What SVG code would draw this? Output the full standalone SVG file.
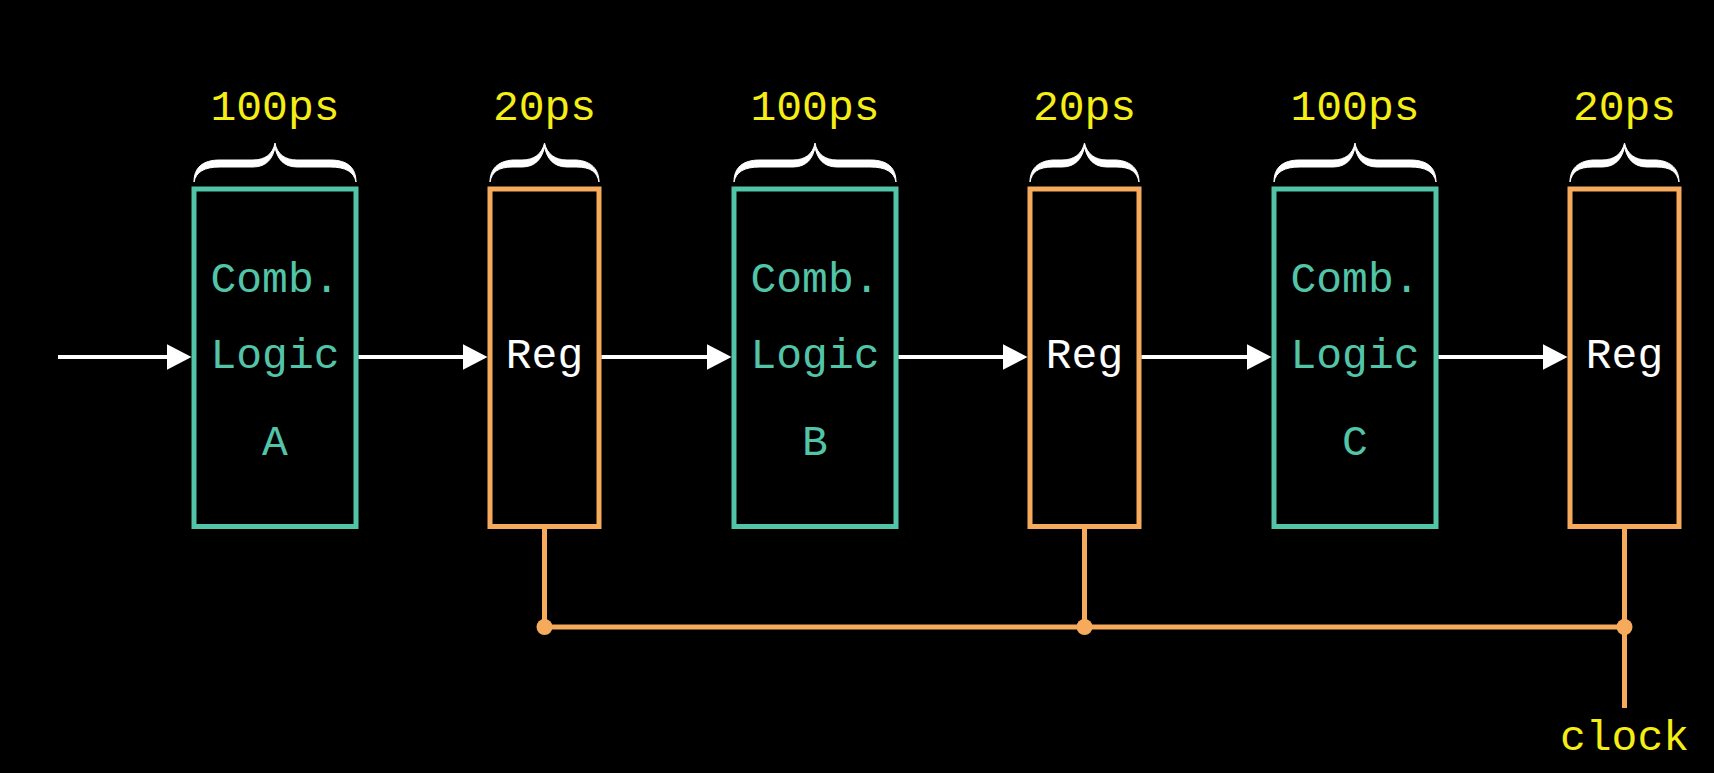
<svg xmlns="http://www.w3.org/2000/svg" width="1714" height="773" viewBox="0 0 1714 773">
  <style>
    .bg { fill: #000000; }
    .comb { fill: none; stroke: #52c4a7; stroke-width: 5; }
    .reg { fill: none; stroke: #f6aa5c; stroke-width: 5; }
    .brace { fill: #ffffff; stroke: #ffffff; stroke-width: 1; stroke-linejoin: round; }
    .t { font-family: "Liberation Mono", "DejaVu Sans Mono", monospace; font-size: 43px; text-anchor: middle; }
    .delay { fill: #f4ee14; }
    .logic { fill: #52c4a7; }
    .reglbl { fill: #ffffff; }
    .wire { fill: none; stroke: #ffffff; stroke-width: 4; }
    .clk { fill: none; stroke: #f6aa5c; stroke-width: 5; }
    .dot { fill: #f6aa5c; }
  </style>
  <defs>
    <marker id="arrow" viewBox="0 0 25 26" refX="5" refY="13" markerWidth="25" markerHeight="26" markerUnits="userSpaceOnUse" orient="auto">
      <path d="M0,0 L25,13 L0,26 Z" fill="#ffffff"/>
    </marker>
  </defs>

  <rect class="bg" x="0" y="0" width="1714" height="773"/>

  <!-- combinational logic stage A -->
  <g id="comb-a">
    <path class="brace" d="M194,182 C194,168 202,160 220,160 L253,160 C265,160 273,154 275,143 C277,154 285,160 297,160 L330,160 C348,160 356,168 356,182 C354,172 346,167 330,167 L297,167 C283,167 277,158 275,147 C273,158 267,167 253,167 L220,167 C204,167 196,172 194,182 Z"/>
    <text class="t delay" x="275" y="120">100ps</text>
    <rect class="comb" x="194" y="189" width="162" height="337.5"/>
    <text class="t logic" x="275" y="292">Comb.</text>
    <text class="t logic" x="275" y="368">Logic</text>
    <text class="t logic" x="275" y="455">A</text>
  </g>

  <!-- register 1 -->
  <g id="reg-1">
    <path class="brace" d="M490,182 C490,170 497,161 513,160 L522,160 C534,160 542,154 544.5,143 C547,154 555,160 567,160 L576,160 C592,161 599,170 599,182 C597,172 591,167 576,167 L567,167 C553,167 547,158 544.5,147 C542,158 536,167 522,167 L513,167 C498,167 492,172 490,182 Z"/>
    <text class="t delay" x="544.5" y="120">20ps</text>
    <rect class="reg" x="490" y="189" width="109" height="337.5"/>
    <text class="t reglbl" x="544.5" y="368">Reg</text>
  </g>

  <!-- combinational logic stage B -->
  <g id="comb-b">
    <path class="brace" d="M734,182 C734,168 742,160 760,160 L793,160 C805,160 813,154 815,143 C817,154 825,160 837,160 L870,160 C888,160 896,168 896,182 C894,172 886,167 870,167 L837,167 C823,167 817,158 815,147 C813,158 807,167 793,167 L760,167 C744,167 736,172 734,182 Z"/>
    <text class="t delay" x="815" y="120">100ps</text>
    <rect class="comb" x="734" y="189" width="162" height="337.5"/>
    <text class="t logic" x="815" y="292">Comb.</text>
    <text class="t logic" x="815" y="368">Logic</text>
    <text class="t logic" x="815" y="455">B</text>
  </g>

  <!-- register 2 -->
  <g id="reg-2">
    <path class="brace" d="M1030,182 C1030,170 1037,161 1053,160 L1062,160 C1074,160 1082,154 1084.5,143 C1087,154 1095,160 1107,160 L1116,160 C1132,161 1139,170 1139,182 C1137,172 1131,167 1116,167 L1107,167 C1093,167 1087,158 1084.5,147 C1082,158 1076,167 1062,167 L1053,167 C1038,167 1032,172 1030,182 Z"/>
    <text class="t delay" x="1084.5" y="120">20ps</text>
    <rect class="reg" x="1030" y="189" width="109" height="337.5"/>
    <text class="t reglbl" x="1084.5" y="368">Reg</text>
  </g>

  <!-- combinational logic stage C -->
  <g id="comb-c">
    <path class="brace" d="M1274,182 C1274,168 1282,160 1300,160 L1333,160 C1345,160 1353,154 1355,143 C1357,154 1365,160 1377,160 L1410,160 C1428,160 1436,168 1436,182 C1434,172 1426,167 1410,167 L1377,167 C1363,167 1357,158 1355,147 C1353,158 1347,167 1333,167 L1300,167 C1284,167 1276,172 1274,182 Z"/>
    <text class="t delay" x="1355" y="120">100ps</text>
    <rect class="comb" x="1274" y="189" width="162" height="337.5"/>
    <text class="t logic" x="1355" y="292">Comb.</text>
    <text class="t logic" x="1355" y="368">Logic</text>
    <text class="t logic" x="1355" y="455">C</text>
  </g>

  <!-- register 3 -->
  <g id="reg-3">
    <path class="brace" d="M1570,182 C1570,170 1577,161 1593,160 L1602,160 C1614,160 1622,154 1624.5,143 C1627,154 1635,160 1647,160 L1656,160 C1672,161 1679,170 1679,182 C1677,172 1671,167 1656,167 L1647,167 C1633,167 1627,158 1624.5,147 C1622,158 1616,167 1602,167 L1593,167 C1578,167 1572,172 1570,182 Z"/>
    <text class="t delay" x="1624.5" y="120">20ps</text>
    <rect class="reg" x="1570" y="189" width="109" height="337.5"/>
    <text class="t reglbl" x="1624.5" y="368">Reg</text>
  </g>

  <!-- clock label -->
  <g id="clock">
    <text class="t delay" x="1624.5" y="750">clock</text>
  </g>

  <!-- data path and clock distribution -->
  <g id="connectors">
    <line class="wire" x1="58" y1="357" x2="171.5" y2="357" marker-end="url(#arrow)"/>
    <line class="wire" x1="358.5" y1="357" x2="467.5" y2="357" marker-end="url(#arrow)"/>
    <line class="wire" x1="601.5" y1="357" x2="711.5" y2="357" marker-end="url(#arrow)"/>
    <line class="wire" x1="898.5" y1="357" x2="1007.5" y2="357" marker-end="url(#arrow)"/>
    <line class="wire" x1="1141.5" y1="357" x2="1251.5" y2="357" marker-end="url(#arrow)"/>
    <line class="wire" x1="1438.5" y1="357" x2="1547.5" y2="357" marker-end="url(#arrow)"/>

    <line class="clk" x1="544.5" y1="529" x2="544.5" y2="627"/>
    <line class="clk" x1="1084.5" y1="529" x2="1084.5" y2="627"/>
    <line class="clk" x1="1624.5" y1="529" x2="1624.5" y2="708"/>
    <line class="clk" x1="544.5" y1="627" x2="1624.5" y2="627"/>
    <circle class="dot" cx="544.5" cy="627" r="8"/>
    <circle class="dot" cx="1084.5" cy="627" r="8"/>
    <circle class="dot" cx="1624.5" cy="627" r="8"/>
  </g>
</svg>
